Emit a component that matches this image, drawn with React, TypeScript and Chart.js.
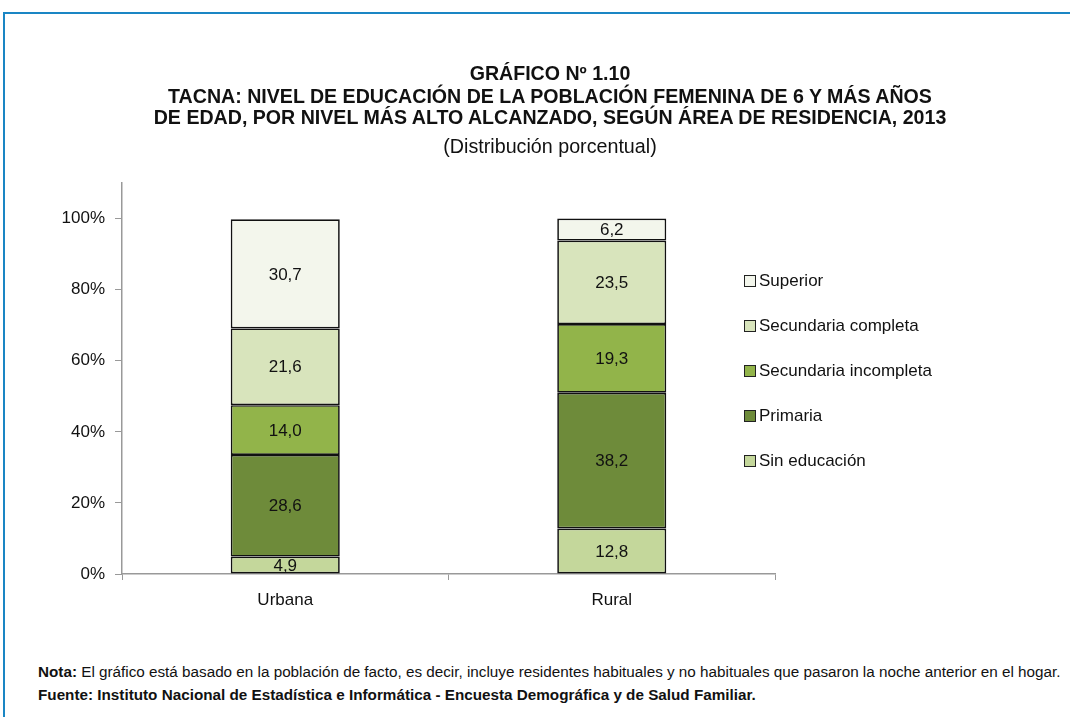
import React, { useEffect, useRef } from "react";
import { Chart, registerables } from "chart.js";

Chart.register(...registerables);

const categories = ["Urbana", "Rural"];
const seriesNames = ["Sin educación", "Primaria", "Secundaria incompleta", "Secundaria completa", "Superior"];
const sinEducacion = [4.9, 12.8];
const primaria = [28.6, 38.2];
const secIncompleta = [14.0, 19.3];
const secCompleta = [21.6, 23.5];
const superior = [30.7, 6.2];
const seriesColors = ["#C4D79B", "#6E8B3A", "#92B44A", "#D8E4BC", "#F3F6EC"];
const yTicks = [0, 20, 40, 60, 80, 100];

const titleLines = [
  "GRÁFICO Nº 1.10",
  "TACNA: NIVEL DE EDUCACIÓN DE LA POBLACIÓN FEMENINA DE 6 Y MÁS AÑOS",
  "DE EDAD, POR NIVEL MÁS ALTO ALCANZADO, SEGÚN ÁREA DE RESIDENCIA, 2013",
];
const subtitleText = "(Distribución porcentual)";

const FONT = "'Liberation Sans', Arial, sans-serif";

const labelPlugin = {
  id: "segLabels",
  afterDatasetsDraw(chart: any) {
    const ctx = chart.ctx;
    ctx.save();
    ctx.font = `17px ${FONT}`;
    ctx.fillStyle = "#111";
    ctx.textAlign = "center";
    ctx.textBaseline = "middle";
    chart.data.datasets.forEach((ds: any, di: number) => {
      const meta = chart.getDatasetMeta(di);
      meta.data.forEach((el: any, i: number) => {
        const v = ds.data[i];
        const y = (el.y + el.base) / 2;
        ctx.fillText(v.toFixed(1).replace(".", ","), el.x, y + 1);
      });
    });
    ctx.restore();
  },
};

export default function App() {
  const ref = useRef<HTMLCanvasElement | null>(null);
  useEffect(() => {
    if (!ref.current) return;
    const all = [sinEducacion, primaria, secIncompleta, secCompleta, superior];
    const chart = new Chart(ref.current, {
      type: "bar",
      data: {
        labels: categories,
        datasets: all.map((d, i) => ({
          label: seriesNames[i],
          data: d,
          backgroundColor: seriesColors[i],
          borderColor: "#111",
          borderWidth: 1.7,
          borderSkipped: false,
          categoryPercentage: 1,
          barPercentage: 0.334,
        })),
      },
      options: {
        responsive: false,
        animation: false,
        layout: { padding: { left: 0, right: 325, top: 183, bottom: 0 } },
        plugins: {
          legend: { display: false },
          tooltip: { enabled: false },
          title: { display: false },
        },
        scales: {
          x: {
            stacked: true,
            grid: { display: true, drawOnChartArea: false, offset: true, tickLength: 6, color: "#999" },
            border: { color: "#999", width: 1.5 },
            ticks: { color: "#111", font: { family: FONT, size: 17 }, padding: 10 },
            afterFit(scale: any) {
              scale.height = 66;
            },
          },
          y: {
            stacked: true,
            min: 0,
            max: 110,
            grid: { display: true, drawOnChartArea: false, tickLength: 7, color: "#999" },
            border: { color: "#999", width: 1.5 },
            ticks: {
              color: "#111",
              font: { family: FONT, size: 17 },
              padding: 10,
              callback: (v: any) => v + "%",
            },
            afterBuildTicks(scale: any) {
              scale.ticks = yTicks.map((v) => ({ value: v }));
            },
            afterFit(scale: any) {
              scale.width = 122;
            },
          },
        },
      },
      plugins: [labelPlugin],
    } as any);
    return () => chart.destroy();
  }, []);

  const legendItems = seriesNames.map((n, i) => ({ n, c: seriesColors[i] })).reverse();
  const titleTops = [73, 96, 117];

  return (
    <div style={{ position: "absolute", left: 0, top: 0, width: 1070, height: 717, overflow: "hidden", background: "#fff", fontFamily: FONT }}>
      <div style={{ position: "absolute", left: 3, top: 12, width: 1200, height: 800, borderTop: "2.5px solid #1A86C4", borderLeft: "2.5px solid #1A86C4" }} />
      <canvas ref={ref} width={1100} height={640} style={{ position: "absolute", left: 0, top: 0, width: 1100, height: 640 }} />
      {titleLines.map((t, i) => (
        <div key={i} style={{ position: "absolute", left: 0, width: 1100, top: titleTops[i] - 12, height: 24, lineHeight: "24px", textAlign: "center", fontSize: 19.6, fontWeight: "bold", color: "#111", whiteSpace: "nowrap" }}>
          {t}
        </div>
      ))}
      <div style={{ position: "absolute", left: 0, width: 1100, top: 146 - 12, height: 24, lineHeight: "24px", textAlign: "center", fontSize: 19.7, color: "#111", whiteSpace: "nowrap" }}>
        {subtitleText}
      </div>
      {legendItems.map((it, i) => (
        <div key={it.n} style={{ position: "absolute", left: 744, top: 281 + i * 45 - 11, height: 22, display: "flex", alignItems: "center", fontSize: 17, color: "#111", whiteSpace: "nowrap" }}>
          <span style={{ display: "inline-block", width: 10, height: 10, background: it.c, border: "1.5px solid #222", marginRight: 3 }} />
          <span>{it.n}</span>
        </div>
      ))}
      <div style={{ position: "absolute", left: 38, top: 660, fontSize: 15.25, color: "#111", lineHeight: "23px", whiteSpace: "nowrap" }}>
        <div><b>Nota:</b> El gráfico está basado en la población de facto, es decir, incluye residentes habituales y no habituales que pasaron la noche anterior en el hogar.</div>
        <div><b>Fuente: Instituto Nacional de Estadística e Informática - Encuesta Demográfica y de Salud Familiar.</b></div>
      </div>
    </div>
  );
}
